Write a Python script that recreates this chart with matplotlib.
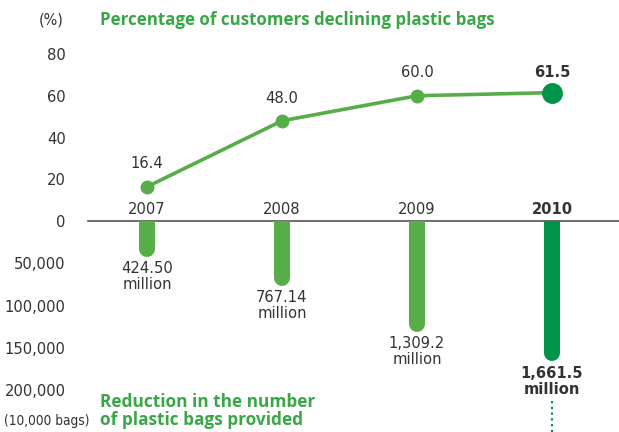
import matplotlib.pyplot as plt
import numpy as np

years = [2007, 2008, 2009, 2010]
pct_declining = [16.4, 48.0, 60.0, 61.5]
bags_reduced = [42450, 76714, 130920, 166150]   # unit: 10,000 bags
pct_labels = ["16.4", "48.0", "60.0", "61.5"]
bag_labels = ["424.50\nmillion", "767.14\nmillion", "1,309.2\nmillion", "1,661.5\nmillion"]
pct_ticks = [0, 20, 40, 60, 80]
bag_ticks = [50000, 100000, 150000, 200000]

light_green = "#57ad47"
dark_green = "#00934a"
title_green = "#3aa648"
txt = "#333333"
cond = dict(family="DejaVu Sans", stretch="condensed")

W, H = 619, 432
fig = plt.figure(figsize=(W / 100, H / 100), dpi=100)

# pixel layout
x0 = 88
zero_y = 221
top_y = 54   # where 80% sits
x_lo = 2007 - (147 - x0) / 135
x_hi = 2010 + (W - 552) / 135

ax = fig.add_axes([x0 / W, (H - zero_y) / H, 1 - x0 / W, (zero_y - top_y) / H])
axb = fig.add_axes([x0 / W, 0, 1 - x0 / W, (H - zero_y) / H])

bag_bottom = 200000 * (H - zero_y) / (390 - zero_y)

for a in (ax, axb):
    a.set_xlim(x_lo, x_hi)
    for s in a.spines.values():
        s.set_visible(False)
    a.set_xticks([])
    a.tick_params(axis="y", length=0, pad=16, labelsize=11.8, labelcolor=txt)
    a.patch.set_alpha(0)

ax.set_ylim(0, 80)
ax.set_yticks(pct_ticks)
ax.spines["bottom"].set_visible(True)
ax.spines["bottom"].set_color("#555555")
ax.spines["bottom"].set_linewidth(1.2)
ax.spines["bottom"].set_bounds(x_lo, x_hi)

axb.set_ylim(bag_bottom, 0)
axb.set_yticks(bag_ticks)
axb.set_yticklabels([f"{v:,}" for v in bag_ticks])
for a in (ax, axb):
    for lab in a.get_yticklabels():
        lab.set_family("DejaVu Sans")
        lab.set_stretch("condensed")

# line of percentages
ax.plot(years, pct_declining, color=light_green, lw=2.6, clip_on=False, zorder=3)
ax.plot(years[:3], pct_declining[:3], "o", color=light_green, ms=9, clip_on=False, zorder=4)
ax.plot(years[3:], pct_declining[3:], "o", color=dark_green, ms=14, clip_on=False, zorder=4)
for i, (yr, v, lab) in enumerate(zip(years, pct_declining, pct_labels)):
    bold = i == 3
    ax.annotate(lab, (yr, v), xytext=(0, 11 if not bold else 9), textcoords="offset points",
                ha="center", va="bottom", fontsize=11.8,
                fontweight="bold" if bold else "normal", color=txt, **cond)
    ax.annotate(str(yr), (yr, 0), xytext=(0, 3), textcoords="offset points",
                ha="center", va="bottom", fontsize=11.8,
                fontweight="bold" if bold else "normal", color=txt, **cond)

# rounded bars of bag reduction
bar_px = 16
units_per_px = bag_bottom / (H - zero_y)
r = bar_px / 2 * units_per_px
for i, (yr, v, lab) in enumerate(zip(years, bags_reduced, bag_labels)):
    col = dark_green if i == 3 else light_green
    bold = i == 3
    axb.plot([yr, yr], [-r * 2, v - r], color=col, lw=bar_px * 0.72,
             solid_capstyle="round", zorder=2)
    axb.annotate(lab, (yr, v), xytext=(0, -3), textcoords="offset points",
                 ha="center", va="top", fontsize=11.8,
                 fontweight="bold" if bold else "normal", color=txt,
                 linespacing=1.1, **cond)

# dotted continuation under 2010
axb.plot([2010, 2010], [(401 - zero_y) * units_per_px, bag_bottom],
         color=dark_green, lw=1.6, ls=(0, (1, 1.6)), clip_on=False)

# titles and units
fig.text(64 / W, 1 - 20 / H, "(%)", ha="right", va="center", fontsize=11.5,
         color=txt, **cond)
fig.text(100 / W, 1 - 20 / H, "Percentage of customers declining plastic bags",
         ha="left", va="center", fontsize=12.2, fontweight="bold",
         color=title_green, family=["Open Sans", "DejaVu Sans"])
fig.text(100 / W, 1 - 411 / H, "Reduction in the number\nof plastic bags provided",
         ha="left", va="center", fontsize=12.4, fontweight="bold",
         color=title_green, family=["Open Sans", "DejaVu Sans"], linespacing=1.0)
fig.text(90 / W, 1 - 421 / H, "(10,000 bags)", ha="right", va="center",
         fontsize=9.8, color=txt, **cond)

fig.savefig("out.png", dpi=100)
